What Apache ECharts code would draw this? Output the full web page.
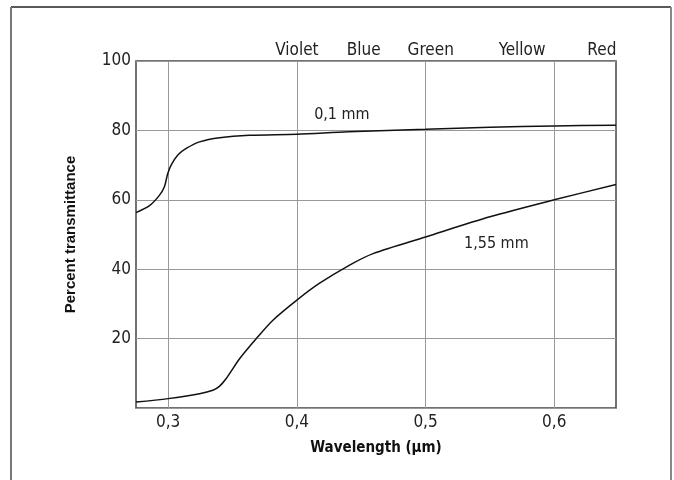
<!DOCTYPE html>
<html>
<head>
    <meta charset="utf-8" />
    <title>Percent transmittance</title>
    <script type="text/javascript" src="https://cdn.jsdelivr.net/npm/echarts@6/dist/echarts.min.js"></script>
    <style>
        html, body { margin: 0; padding: 0; background: #fff; }
    </style>
</head>
<body>
<div id="main" style="width: 674px;height:480px;"></div>
<script type="text/javascript">
    // data
    var wave01 = [0.275, 0.2855, 0.293, 0.297, 0.2997, 0.3023, 0.3075, 0.314, 0.3244, 0.34, 0.3633, 0.4, 0.44, 0.5, 0.55, 0.6, 0.648];
    var trans01 = [56.3, 58.3, 61.2, 63.7, 67.6, 70.0, 72.9, 74.8, 76.7, 77.9, 78.6, 78.9, 79.6, 80.3, 80.9, 81.3, 81.5];
    var wave155 = [0.275, 0.3, 0.3244, 0.3347, 0.34, 0.3451, 0.3555, 0.3685, 0.3814, 0.4, 0.4174, 0.441, 0.4592, 0.5, 0.55, 0.6, 0.648];
    var trans155 = [1.7, 2.7, 4.1, 5.1, 6.3, 8.5, 14.2, 20.0, 25.3, 31.1, 35.9, 41.2, 44.5, 49.3, 55.1, 60.0, 64.4];

    var xTicks = [0.3, 0.4, 0.5, 0.6];
    var bandNames = ['Violet', 'Blue', 'Green', 'Yellow', 'Red'];
    var bandCenters = [0.4, 0.452, 0.504, 0.575, 0.637];

    var seriesNames = ['0,1 mm', '1,55 mm'];
    var labelAt = [[0.435, 84.4], [0.555, 47.2]];

    var narrow = '"DejaVu Sans Condensed", sans-serif';

    function zip(xs, ys) {
        var out = [];
        for (var i = 0; i < xs.length; i++) out.push([xs[i], ys[i]]);
        return out;
    }

    var myChart = echarts.init(document.getElementById('main'));
    var option = {
        animation: false,
        backgroundColor: '#fff',
        textStyle: { fontFamily: narrow },
        grid: {
            left: 136, top: 61, width: 480, height: 347,
            show: true, borderColor: '#444', borderWidth: 1.5,
            backgroundColor: 'transparent'
        },
        graphic: [
            { type: 'line', shape: { x1: 11, y1: 7, x2: 671, y2: 7 }, style: { stroke: '#222', lineWidth: 1.5 } },
            { type: 'line', shape: { x1: 11, y1: 7, x2: 11, y2: 480 }, style: { stroke: '#777', lineWidth: 2 } },
            { type: 'line', shape: { x1: 671, y1: 7, x2: 671, y2: 480 }, style: { stroke: '#888', lineWidth: 2 } }
        ],
        xAxis: [
            {
                type: 'value', position: 'bottom',
                min: 0.275, max: 0.648,
                name: 'Wavelength (µm)', nameLocation: 'middle', nameGap: 33,
                nameTextStyle: { fontFamily: narrow, fontWeight: 'bold', fontSize: 15, color: '#111' },
                axisLine: { show: false },
                axisTick: { show: false, customValues: xTicks },
                axisLabel: {
                    customValues: xTicks, margin: 6, fontSize: 17, color: '#222',
                    formatter: function (v) { return String(Math.round(v * 10) / 10).replace('.', ','); }
                },
                splitLine: { show: true, lineStyle: { color: '#999', width: 1 } }
            },
            {
                type: 'value', position: 'top',
                min: 0.275, max: 0.648,
                axisLine: { show: false },
                axisTick: { show: false },
                splitLine: { show: false },
                axisLabel: {
                    customValues: bandCenters, margin: 2, fontSize: 17, color: '#222',
                    formatter: function (v) {
                        var i = bandCenters.indexOf(v);
                        return i >= 0 ? bandNames[i] : '';
                    }
                }
            }
        ],
        yAxis: {
            type: 'value', min: 0, max: 100, interval: 20,
            name: 'Percent transmittance', nameLocation: 'middle', nameGap: 58, nameRotate: 90,
            nameTextStyle: { fontFamily: 'Arial, "Liberation Sans", sans-serif', fontWeight: 'bold', fontSize: 15, color: '#111' },
            axisLine: { show: false },
            axisTick: { show: false },
            axisLabel: {
                margin: 5, fontSize: 17, color: '#222',
                formatter: function (v) { return v === 0 ? '' : v; }
            },
            splitLine: { show: true, lineStyle: { color: '#999', width: 1 } }
        },
        series: [zip(wave01, trans01), zip(wave155, trans155)].map(function (d, k) {
            return {
                name: seriesNames[k],
                type: 'line',
                data: d,
                smooth: 0.3,
                showSymbol: false,
                lineStyle: { color: '#111', width: 1.5 },
                markPoint: {
                    symbol: 'circle', symbolSize: 0,
                    label: { show: true, position: 'inside', formatter: seriesNames[k], fontSize: 16, color: '#222', fontFamily: narrow },
                    data: [{ coord: labelAt[k] }]
                }
            };
        })
    };
    myChart.setOption(option);
</script>
</body>
</html>
